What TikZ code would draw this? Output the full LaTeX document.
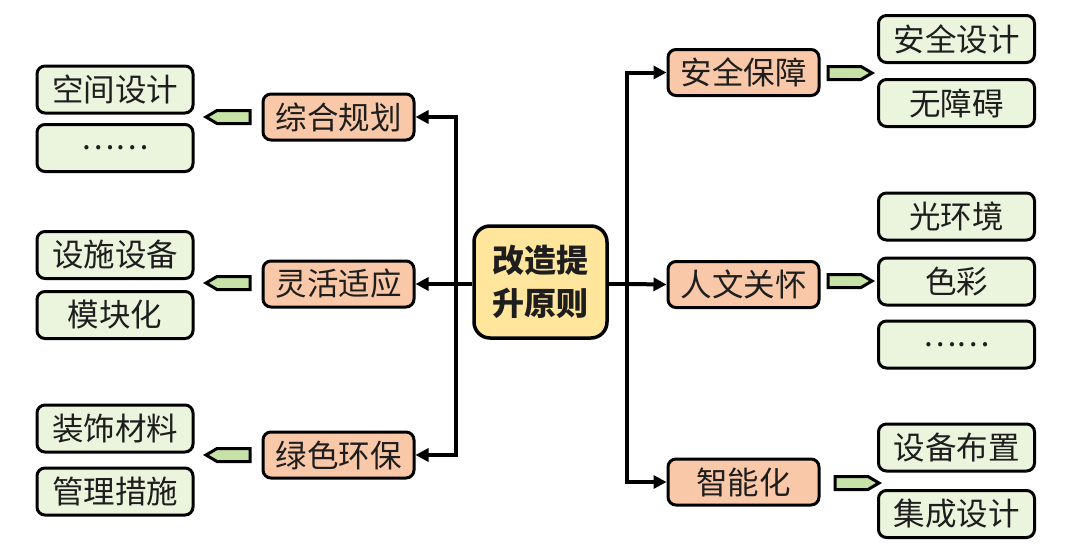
\documentclass[tikz,border=0pt]{standalone}
\usepackage{fontspec}
\newfontfamily\cjk{Noto Sans CJK SC}
\usetikzlibrary{arrows.meta}
\definecolor{midfill}{HTML}{F8C8A8}
\definecolor{leaffill}{HTML}{EBF5DD}
\definecolor{arrfill}{HTML}{C6E2A6}
\definecolor{cenfill}{HTML}{FFE69C}
\definecolor{txt}{HTML}{1E1E1E}
\tikzset{
  box/.style={draw=black, line width=3pt, rounded corners=8pt, text=txt, inner sep=0pt,
    font=\cjk\fontsize{31.5}{36}\selectfont},
  midbox/.style={box, fill=midfill, minimum width=151pt, minimum height=46pt},
  leafbox/.style={box, fill=leaffill, minimum width=156pt, minimum height=47pt},
  cenbox/.style={box, fill=cenfill, line width=3.5pt, rounded corners=16pt, minimum width=133pt, minimum height=112pt,
    align=center, font=\cjk\bfseries\fontsize{32}{43}\selectfont},
  conn/.style={line width=4pt, -{Triangle[length=13pt,width=13pt]}},
  arrowshape/.style={draw=black, line width=3pt, fill=arrfill, line join=miter},
  rarr/.pic={\draw[arrowshape] (-22,-6.5) -- (11,-6.5) -- (22,0) -- (11,6.5) -- (-22,6.5) -- cycle;},
  larr/.pic={\draw[arrowshape] (22,-6.5) -- (-11,-6.5) -- (-22,0) -- (-11,6.5) -- (22,6.5) -- cycle;}
}
\begin{document}
\begin{tikzpicture}[x=1pt,y=-1pt]
\useasboundingbox (0,0) rectangle (1068,552);
% center
\node[cenbox] (c) at (540.5,282) {改造提\\升原则};
% left mid
\node[midbox] (l1) at (338.5,117) {综合规划};
\node[midbox] (l2) at (338.5,284) {灵活适应};
\node[midbox] (l3) at (338.5,455) {绿色环保};
% right mid
\node[midbox] (r1) at (743.5,72.5) {安全保障};
\node[midbox] (r2) at (743.5,284.5) {人文关怀};
\node[midbox] (r3) at (743.5,482) {智能化};
% left leaves
\node[leafbox] (a1) at (115,89.5) {空间设计};
\node[leafbox] (a2) at (115,148) {……};
\node[leafbox] (b1) at (115,255) {设施设备};
\node[leafbox] (b2) at (115,315) {模块化};
\node[leafbox] (d1) at (115,428.5) {装饰材料};
\node[leafbox] (d2) at (115,491.5) {管理措施};
% right leaves
\node[leafbox] (e1) at (956.5,39) {安全设计};
\node[leafbox] (e2) at (956.5,103) {无障碍};
\node[leafbox] (f1) at (956.5,216.5) {光环境};
\node[leafbox] (f2) at (956.5,281.5) {色彩};
\node[leafbox] (f3) at (956.5,344.5) {……};
\node[leafbox] (g1) at (956.5,447.5) {设备布置};
\node[leafbox] (g2) at (956.5,514) {集成设计};
% buses
\coordinate (lb) at (456,284);
\coordinate (rb) at (627,284);
\draw[line width=4pt] (c.west |- lb) -- (lb);
\draw[line width=4pt] (c.east |- rb) -- (rb);
\draw[conn] (lb) |- (l1.east);
\draw[conn] (lb) -- (l2.east);
\draw[conn] (lb) |- (l3.east);
\draw[conn] (rb) |- (r1.west);
\draw[conn] (rb) -- (r2.west);
\draw[conn] (rb) |- (r3.west);
% small arrows
\pic at (228,117) {larr};
\pic at (228,283) {larr};
\pic at (228,455) {larr};
\pic at (850,73) {rarr};
\pic at (850,281) {rarr};
\pic at (857,483) {rarr};
\end{tikzpicture}
\end{document}
